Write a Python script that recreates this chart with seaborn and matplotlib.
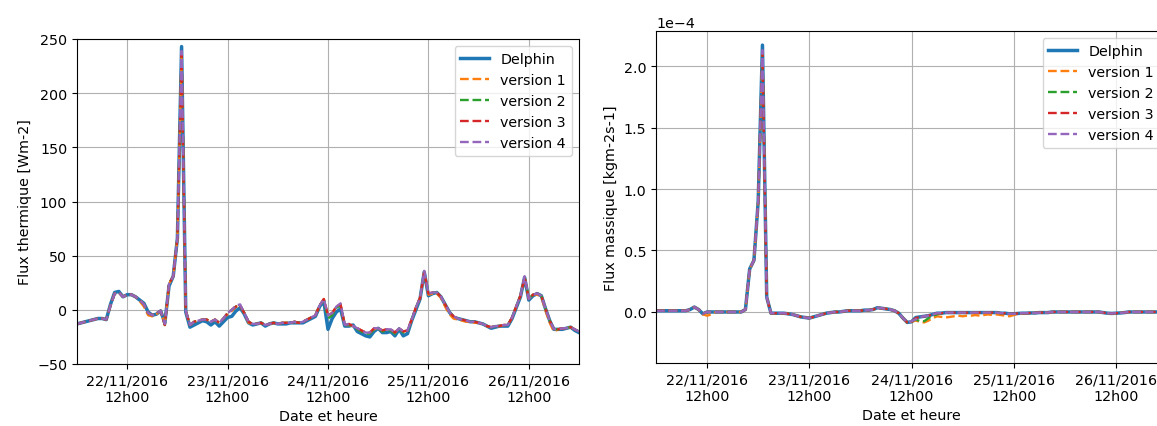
import pandas as pd
import matplotlib
matplotlib.use("Agg")
import matplotlib.pyplot as plt
import matplotlib.dates as mdates
import seaborn as sns

# hourly time stamps, 22/11/2016 00h00 -> 27/11/2016 00h00
time = pd.date_range("2016-11-22 00:00", periods=121, freq="h")

# ---- flux thermique [Wm-2] ----
thermal_delphin = [
    -13, -12, -11, -10, -9, -8, -8, -9, 5, 16, 17, 12, 14, 14, 12, 9, 6, -2, -5, -4,
    -1, -12, 22, 31, 66, 243, -2, -16, -14, -12, -10, -11, -14, -11, -15, -11, -7, -6, -1, 2,
    -4, -12, -14, -13, -12, -15, -13, -12, -13, -13, -13, -12, -12, -12, -12, -10, -8, -6, 3, 8,
    -18, -8, -2, 1, -15, -15, -14, -20, -22, -24, -25, -20, -17, -21, -21, -20, -24, -18, -24, -22,
    -10, 0, 10, 35, 13, 15, 16, 12, 5, -2, -7, -8, -9, -10, -11, -11, -12, -13, -15, -17,
    -16, -15, -15, -15, -8, 2, 12, 30, 9, 13, 15, 13, 1, -10, -18, -18, -18, -17, -16, -19,
    -21]
thermal_v1 = [
    -13, -12, -11, -10, -9, -8, -8, -9, 4, 15, 16, 12, 14, 14, 12, 8, 3, -5, -6, -4,
    -1, -14, 24, 31, 66, 236, -1, -14, -11, -10, -9, -9, -11, -9, -12, -8, -4, -1, 3, 4,
    -3, -12, -13, -13, -12, -14, -13, -12, -13, -12, -12, -12, -11, -12, -11, -9, -7, -5, 4, 10,
    -5, -3, 3, 5, -14, -14, -15, -17, -19, -21, -21, -18, -17, -19, -18, -18, -21, -17, -20, -19,
    -9, 2, 11, 35, 14, 15, 15, 11, 3, -4, -8, -9, -10, -11, -11, -12, -12, -13, -15, -16,
    -15, -15, -14, -14, -7, 3, 13, 30, 10, 14, 14, 12, -1, -12, -20, -18, -17, -17, -16, -18,
    -20]
thermal_v2 = [
    -13, -12, -11, -10, -9, -8, -8, -9, 4, 15, 16, 12, 14, 14, 12, 9, 5, -3, -5, -3,
    -1, -14, 24, 31, 66, 237, -1, -14, -11, -10, -9, -9, -11, -9, -12, -8, -3, 0, 3, 4,
    -3, -11, -13, -13, -12, -14, -13, -12, -13, -12, -12, -12, -11, -12, -11, -9, -7, -5, 4, 9,
    -8, -5, 2, 4, -14, -14, -15, -18, -20, -22, -22, -18, -17, -20, -19, -19, -22, -17, -21, -20,
    -9, 2, 11, 35, 15, 16, 16, 12, 5, -2, -6, -8, -9, -10, -11, -11, -12, -13, -15, -16,
    -15, -15, -14, -14, -7, 3, 13, 30, 10, 14, 15, 13, 1, -10, -18, -18, -17, -17, -16, -18,
    -20]
thermal_v3 = [
    -13, -12, -11, -10, -9, -8, -8, -9, 4, 15, 16, 12, 14, 14, 12, 9, 5, -3, -5, -3,
    -1, -14, 24, 31, 66, 237, -1, -14, -11, -10, -9, -9, -11, -9, -12, -8, -3, 0, 3, 4,
    -3, -11, -13, -13, -12, -14, -13, -12, -13, -12, -12, -12, -11, -12, -11, -9, -7, -5, 4, 10,
    -5, -3, 3, 5, -14, -13, -15, -17, -19, -21, -21, -17, -17, -19, -18, -18, -21, -17, -20, -19,
    -9, 2, 11, 35, 15, 16, 16, 12, 5, -2, -6, -8, -9, -10, -11, -11, -12, -13, -15, -16,
    -15, -15, -14, -14, -7, 3, 13, 30, 10, 14, 15, 13, 1, -10, -18, -18, -17, -17, -16, -18,
    -20]
thermal_v4 = [
    -13, -12, -11, -10, -9, -8, -8, -9, 4, 15, 16, 12, 14, 14, 12, 9, 5, -3, -5, -3,
    -1, -13, 24, 31, 66, 239, -1, -14, -11, -10, -9, -9, -11, -9, -12, -8, -3, 0, 4, 5,
    -3, -11, -13, -13, -12, -14, -13, -12, -13, -12, -12, -12, -11, -12, -11, -9, -7, -5, 4, 10,
    -5, -3, 3, 6, -14, -13, -15, -17, -19, -21, -21, -17, -17, -19, -18, -18, -21, -17, -20, -19,
    -9, 2, 11, 36, 15, 16, 16, 12, 5, -2, -6, -8, -9, -10, -11, -11, -12, -13, -15, -16,
    -15, -15, -14, -14, -7, 3, 13, 31, 10, 14, 15, 13, 1, -10, -18, -18, -17, -17, -16, -18,
    -20]

# ---- flux massique [kgm-2s-1], in units of 1e-4 ----
mass_delphin = [
    0.01, 0.01, 0.01, 0.01, 0.01, 0.01, 0.01, 0.01, 0.02, 0.04, 0.02, -0.015, 0.0, 0.0, 0.0, 0.0, 0.0, 0.0, 0.0, 0.0,
    0.0, 0.02, 0.35, 0.42, 0.9, 2.17, 0.12, -0.01, -0.01, -0.01, -0.01, -0.015, -0.02, -0.03, -0.04, -0.045, -0.05, -0.04, -0.03, -0.02,
    -0.01, -0.005, 0.0, 0.0, 0.005, 0.01, 0.01, 0.01, 0.01, 0.015, 0.015, 0.02, 0.035, 0.03, 0.025, 0.02, 0.01, -0.01, -0.05, -0.085,
    -0.08, -0.045, -0.04, -0.035, -0.03, -0.02, -0.01, -0.01, -0.005, -0.005, -0.005, -0.005, -0.005, -0.005, -0.005, -0.005, -0.005, -0.005, -0.005, -0.005,
    -0.005, -0.01, -0.01, -0.015, -0.015, -0.012, -0.01, -0.01, -0.008, -0.008, -0.005, -0.005, -0.005, 0.0, 0.0, 0.0, 0.0, 0.0, 0.0, 0.0,
    0.0, 0.0, 0.0, 0.0, 0.0, -0.005, -0.01, -0.012, -0.01, -0.008, -0.005, 0.0, 0.0, 0.0, 0.0, 0.0, 0.0, 0.0, 0.0, 0.0,
    0.0]
mass_v1 = [
    0.01, 0.01, 0.01, 0.01, 0.01, 0.01, 0.01, 0.01, 0.02, 0.04, 0.02, -0.02, -0.03, -0.02, 0.0, 0.0, 0.0, 0.0, 0.0, 0.0,
    0.0, 0.02, 0.35, 0.42, 0.9, 2.12, 0.12, -0.01, -0.01, -0.01, -0.01, -0.015, -0.02, -0.03, -0.04, -0.045, -0.05, -0.04, -0.03, -0.02,
    -0.01, -0.005, 0.0, 0.0, 0.005, 0.01, 0.01, 0.01, 0.01, 0.015, 0.015, 0.02, 0.035, 0.03, 0.025, 0.02, 0.01, -0.01, -0.05, -0.085,
    -0.08, -0.07, -0.08, -0.085, -0.07, -0.05, -0.035, -0.04, -0.045, -0.04, -0.035, -0.03, -0.035, -0.03, -0.03, -0.025, -0.03, -0.025, -0.02, -0.025,
    -0.02, -0.025, -0.03, -0.035, -0.025, -0.015, -0.012, -0.01, -0.008, -0.008, -0.005, -0.005, -0.005, 0.0, 0.0, 0.0, 0.0, 0.0, 0.0, 0.0,
    0.0, 0.0, 0.0, 0.0, 0.0, -0.005, -0.01, -0.012, -0.01, -0.008, -0.005, 0.0, 0.0, 0.0, 0.0, 0.0, 0.0, 0.0, 0.0, 0.0,
    0.0]
mass_v2 = [
    0.01, 0.01, 0.01, 0.01, 0.01, 0.01, 0.01, 0.01, 0.02, 0.04, 0.02, -0.015, 0.0, 0.0, 0.0, 0.0, 0.0, 0.0, 0.0, 0.0,
    0.0, 0.02, 0.35, 0.42, 0.9, 2.12, 0.12, -0.01, -0.01, -0.01, -0.01, -0.015, -0.02, -0.03, -0.04, -0.045, -0.05, -0.04, -0.03, -0.02,
    -0.01, -0.005, 0.0, 0.0, 0.005, 0.01, 0.01, 0.01, 0.01, 0.015, 0.015, 0.02, 0.035, 0.03, 0.025, 0.02, 0.01, -0.01, -0.05, -0.085,
    -0.08, -0.06, -0.075, -0.075, -0.05, -0.03, -0.02, -0.01, -0.005, -0.005, -0.005, -0.005, -0.005, -0.005, -0.005, -0.005, -0.005, -0.005, -0.005, -0.005,
    -0.005, -0.01, -0.01, -0.015, -0.015, -0.012, -0.01, -0.01, -0.008, -0.008, -0.005, -0.005, -0.005, 0.0, 0.0, 0.0, 0.0, 0.0, 0.0, 0.0,
    0.0, 0.0, 0.0, 0.0, 0.0, -0.005, -0.01, -0.012, -0.01, -0.008, -0.005, 0.0, 0.0, 0.0, 0.0, 0.0, 0.0, 0.0, 0.0, 0.0,
    0.0]
mass_v3 = [
    0.01, 0.01, 0.01, 0.01, 0.01, 0.01, 0.01, 0.01, 0.02, 0.04, 0.02, -0.015, 0.0, 0.0, 0.0, 0.0, 0.0, 0.0, 0.0, 0.0,
    0.0, 0.02, 0.35, 0.42, 0.9, 2.12, 0.12, -0.01, -0.01, -0.01, -0.01, -0.015, -0.02, -0.03, -0.04, -0.045, -0.05, -0.04, -0.03, -0.02,
    -0.01, -0.005, 0.0, 0.0, 0.005, 0.01, 0.01, 0.01, 0.01, 0.015, 0.015, 0.02, 0.035, 0.03, 0.025, 0.02, 0.01, -0.01, -0.05, -0.085,
    -0.08, -0.05, -0.04, -0.035, -0.03, -0.02, -0.01, -0.01, -0.005, -0.005, -0.005, -0.005, -0.005, -0.005, -0.005, -0.005, -0.005, -0.005, -0.005, -0.005,
    -0.005, -0.01, -0.01, -0.015, -0.015, -0.012, -0.01, -0.01, -0.008, -0.008, -0.005, -0.005, -0.005, 0.0, 0.0, 0.0, 0.0, 0.0, 0.0, 0.0,
    0.0, 0.0, 0.0, 0.0, 0.0, -0.005, -0.01, -0.012, -0.01, -0.008, -0.005, 0.0, 0.0, 0.0, 0.0, 0.0, 0.0, 0.0, 0.0, 0.0,
    0.0]
mass_v4 = [
    0.01, 0.01, 0.01, 0.01, 0.01, 0.01, 0.01, 0.01, 0.02, 0.04, 0.02, -0.015, 0.0, 0.0, 0.0, 0.0, 0.0, 0.0, 0.0, 0.0,
    0.0, 0.02, 0.35, 0.42, 0.9, 2.13, 0.12, -0.01, -0.01, -0.01, -0.01, -0.015, -0.02, -0.03, -0.04, -0.045, -0.05, -0.04, -0.03, -0.02,
    -0.01, -0.005, 0.0, 0.0, 0.005, 0.01, 0.01, 0.01, 0.01, 0.015, 0.015, 0.02, 0.035, 0.03, 0.025, 0.02, 0.01, -0.01, -0.05, -0.085,
    -0.075, -0.06, -0.04, -0.035, -0.03, -0.02, -0.01, -0.01, -0.005, -0.005, -0.005, -0.005, -0.005, -0.005, -0.005, -0.005, -0.005, -0.005, -0.005, -0.005,
    -0.005, -0.01, -0.01, -0.015, -0.015, -0.012, -0.01, -0.01, -0.008, -0.008, -0.005, -0.005, -0.005, 0.0, 0.0, 0.0, 0.0, 0.0, 0.0, 0.0,
    0.0, 0.0, 0.0, 0.0, 0.0, -0.005, -0.01, -0.012, -0.01, -0.008, -0.005, 0.0, 0.0, 0.0, 0.0, 0.0, 0.0, 0.0, 0.0, 0.0,
    0.0]

labels = ["Delphin", "version 1", "version 2", "version 3", "version 4"]
colors = ["tab:blue", "tab:orange", "tab:green", "tab:red", "tab:purple"]
thermal = [thermal_delphin, thermal_v1, thermal_v2, thermal_v3, thermal_v4]
mass = [mass_delphin, mass_v1, mass_v2, mass_v3, mass_v4]

plt.rcParams["font.size"] = 10.3

fig = plt.figure(figsize=(11.57, 4.27), dpi=100)
ax1 = fig.add_axes([77 / 1157, 1 - 365 / 427, 502 / 1157, 325 / 427])
ax2 = fig.add_axes([656 / 1157, 1 - 364 / 427, 511 / 1157, 332 / 427])

for ax, series, scale in [(ax1, thermal, 1.0), (ax2, mass, 1e-4)]:
    for values, label, color in zip(series, labels, colors):
        df = pd.DataFrame({"time": time, "flux": [v * scale for v in values]})
        if label == "Delphin":
            sns.lineplot(data=df, x="time", y="flux", ax=ax, color=color,
                         linewidth=2.5, label=label)
        else:
            sns.lineplot(data=df, x="time", y="flux", ax=ax, color=color,
                         linewidth=1.7, linestyle="--", label=label)
    ax.set_xlim(time[0], time[-1])
    ax.xaxis.set_major_locator(mdates.HourLocator(byhour=12))
    ax.xaxis.set_major_formatter(mdates.DateFormatter("%d/%m/%Y\n%Hh%M"))
    ax.grid(True)
    ax.set_xlabel("Date et heure")
    ax.legend(loc="upper right")

ax1.set_ylim(-50, 250)
ax1.set_ylabel("Flux thermique [Wm-2]")

ax2.set_ylim(-0.415e-4, 2.285e-4)
ax2.ticklabel_format(axis="y", style="sci", scilimits=(0, 0))
ax2.set_ylabel("Flux massique [kgm-2s-1]")

fig.savefig("out.png", dpi=100)
